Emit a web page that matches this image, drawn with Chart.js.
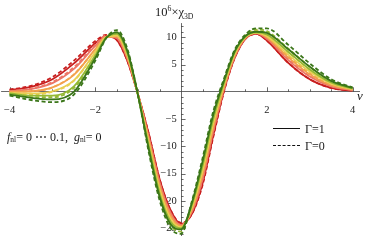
<!DOCTYPE html>
<html><head><meta charset="utf-8">
<script src="https://cdn.jsdelivr.net/npm/chart.js@4.4.1/dist/chart.umd.min.js"></script>
<style>
html,body{margin:0;padding:0;background:#fff;}
#wrap{position:relative;width:374px;height:245px;overflow:hidden;}
canvas{position:absolute;left:0;top:0;}
.t{position:absolute;font-family:"Liberation Serif","DejaVu Serif",serif;color:#1a1a1a;white-space:nowrap;line-height:1;}
.sm{font-size:0.62em;}
.ln{position:absolute;width:27px;height:0;border-top:1.8px solid #111;}
</style></head><body>
<div id="wrap"><canvas id="c" width="374" height="245"></canvas>
<div class="t" style="left:155px;top:6px;font-size:12.5px;">10<span class="sm" style="position:relative;top:-5px;">6</span>×χ<span class="sm" style="position:relative;top:3px;">3D</span></div>
<div class="t" style="left:357px;top:89px;font-size:13px;font-style:italic;">ν</div>
<div class="t" style="left:7px;top:131px;font-size:12px;"><i>f</i><span class="sm" style="position:relative;top:1px;">nl</span>= 0 ⋯ 0.1,&nbsp; <i>g</i><span class="sm" style="position:relative;top:1px;">nl</span>= 0</div>
<div class="ln" style="left:273px;top:128px;"></div>
<div class="t" style="left:305px;top:123px;font-size:12px;">Γ=1</div>
<div class="ln" style="left:273px;top:145px;border-top-style:dashed;"></div>
<div class="t" style="left:305px;top:140px;font-size:12px;">Γ=0</div>
</div>
<script>
// ---- data ----
const xs = [-4,-3.5,-3,-2.5,-2,-1.75,-1.5,-1.25,-1,-0.75,-0.5,-0.25,0,0.25,0.5,0.75,1,1.25,1.5,1.75,2,2.5,3,3.5,4];
const fValues = ['0','0.02','0.04','0.06','0.08','0.1'];
// solid (Γ=1)
const s0 = [0.3,0.9,2.3,5.2,8.9,10.2,9.5,5.6,-0.6,-7.8,-16.0,-21.6,-24.2,-22.4,-16.8,-8.0,0.2,6.2,9.7,10.6,9.4,5.3,2.3,0.7,0.2];
const s1 = [0.1,0.5,1.6,4.2,8.4,10.1,9.8,6.0,-0.6,-8.4,-16.6,-22.1,-24.4,-22.0,-16.0,-7.2,0.6,6.4,9.8,10.7,9.7,5.8,2.8,1.0,0.3];
const s2 = [0.0,0.1,0.8,3.1,7.8,10.0,10.1,6.3,-0.7,-8.9,-17.3,-22.6,-24.6,-21.6,-15.2,-6.5,0.9,6.7,9.9,10.8,10.0,6.3,3.2,1.2,0.4];
const s3 = [-0.2,-0.3,0.1,2.1,7.3,10.0,10.3,6.7,-0.7,-9.5,-17.9,-23.2,-24.8,-21.2,-14.4,-5.7,1.3,6.9,10.0,10.8,10.2,6.8,3.7,1.5,0.5];
const s4 = [-0.3,-0.7,-0.7,1.0,6.7,9.9,10.6,7.0,-0.8,-10.0,-18.6,-23.7,-25.0,-20.8,-13.6,-5.0,1.6,7.2,10.1,10.9,10.5,7.3,4.1,1.7,0.6];
const s5 = [-0.5,-1.1,-1.4,0.0,6.2,9.8,10.9,7.4,-0.8,-10.6,-19.2,-24.2,-25.2,-20.4,-12.8,-4.2,2.0,7.4,10.2,11.0,10.8,7.8,4.6,2.0,0.7];
// dashed (Γ=0)
const d0 = [0.4,1.1,2.7,5.7,9.3,10.4,9.5,5.6,-0.6,-7.8,-16.0,-21.6,-24.0,-22.4,-17.1,-8.3,0.0,6.2,9.7,10.6,9.4,5.3,2.3,0.7,0.2];
const d1 = [0.1,0.6,1.8,4.5,8.6,10.3,9.9,6.1,-0.6,-8.5,-16.7,-22.2,-24.4,-21.9,-16.1,-7.3,0.5,6.5,9.9,10.8,9.9,6.0,2.9,1.1,0.3];
const d2 = [0.0,0.1,0.8,3.2,7.8,10.1,10.3,6.5,-0.7,-9.1,-17.6,-22.9,-24.8,-21.5,-15.1,-6.4,0.9,6.8,10.0,11.0,10.3,6.6,3.4,1.3,0.4];
const d3 = [-0.3,-0.5,0.0,2.0,7.2,10.1,10.5,6.9,-0.7,-9.9,-18.3,-23.6,-25.2,-21.0,-14.2,-5.5,1.5,7.1,10.2,11.2,10.7,7.3,4.1,1.7,0.6];
const d4 = [-0.4,-1.0,-1.0,0.7,6.4,9.9,10.9,7.3,-0.8,-10.5,-19.2,-24.3,-25.6,-20.6,-13.2,-4.6,1.9,7.4,10.3,11.4,11.1,7.9,4.6,1.9,0.7];
const d5 = [-0.7,-1.5,-1.9,-0.5,5.7,9.8,11.3,7.8,-0.8,-11.2,-19.9,-24.9,-26.0,-20.1,-12.2,-3.6,2.4,7.7,10.5,11.6,11.6,8.6,5.2,2.3,0.8];
// ticks
const xTickValues = [-4,-2,2,4];
const xTickLabels = ['\u22124','\u22122','2','4'];
const yTickValues = [10,5,-5,-10,-15,-20,-25];
const yTickLabels = ['10','5','\u22125','\u221210','\u221215','\u221220','\u221225'];

const solids = [s0,s1,s2,s3,s4,s5];
const dashes = [d0,d1,d2,d3,d4,d5];
const colors = ['#c81e1e','#ec7666','#f3a14c','#e9cf52','#94b934','#3b7619'];

const datasets = [];
for (let k = 0; k < 6; k++) {
  datasets.push({label:'f='+fValues[k]+' Γ=1', data: xs.map((x,i)=>({x, y: solids[k][i]})),
    borderColor: colors[k], borderWidth: 1.8, pointRadius: 0, fill: false, cubicInterpolationMode: 'monotone'});
  datasets.push({label:'f='+fValues[k]+' Γ=0', data: xs.map((x,i)=>({x, y: dashes[k][i]})),
    borderColor: colors[k], borderWidth: 1.8, borderDash: [4,2.5], pointRadius: 0, fill: false, cubicInterpolationMode: 'monotone'});
}
// Chart.js paints dataset 0 on top; green (last f) must end on top
datasets.reverse();

const tickFont = {family: 'Liberation Serif', size: 10.5};
const minorTicks = {
  id: 'minorTicks',
  beforeDatasetsDraw(chart) {
    const ctx = chart.ctx, xs_ = chart.scales.x, ys_ = chart.scales.y;
    const x0 = xs_.getPixelForValue(0), y0 = ys_.getPixelForValue(0);
    ctx.save();
    ctx.strokeStyle = '#444'; ctx.lineWidth = 0.8;
    ctx.beginPath();
    for (let v = -4; v <= 4.001; v += 0.5) {
      if (Math.abs(v) < 1e-9) continue;
      const p = Math.round(xs_.getPixelForValue(v)) + 0.5;
      const len = xTickValues.includes(v) ? 4.5 : 2.5;
      ctx.moveTo(p, y0); ctx.lineTo(p, y0 - len);
    }
    for (let v = -26; v <= 12; v += 1) {
      if (v === 0) continue;
      const p = Math.round(ys_.getPixelForValue(v)) + 0.5;
      const len = (v % 5 === 0) ? 4.5 : 2.5;
      ctx.moveTo(x0, p); ctx.lineTo(x0 + len, p);
    }
    ctx.stroke();
    ctx.restore();
  }
};

new Chart(document.getElementById('c'), {
  type: 'line',
  data: {datasets},
  plugins: [minorTicks],
  options: {
    responsive: false, animation: false, devicePixelRatio: 1,
    layout: {padding: {left: 0, right: 15, top: 23, bottom: 0}},
    plugins: {legend: {display: false}, tooltip: {enabled: false}},
    scales: {
      x: {type: 'linear', min: -4.18, max: 4.15, position: {y: 0},
        grid: {display: false}, border: {display: true, color: '#444', width: 0.8},
        afterBuildTicks: s => { s.ticks = xTickValues.map(v => ({value: v})); },
        ticks: {autoSkip: false, maxRotation: 0, padding: 4, color: '#222', font: tickFont,
          callback: (v, i) => xTickLabels[i]}},
      y: {type: 'linear', min: -26.35, max: 12.6, position: {x: 0},
        grid: {display: false}, border: {display: true, color: '#444', width: 0.8},
        afterBuildTicks: s => { s.ticks = yTickValues.map(v => ({value: v})); },
        ticks: {autoSkip: false, color: '#222', font: tickFont,
          callback: (v, i) => yTickLabels[i] + '\u2009\u2009'}}
    }
  }
});
</script>
</body></html>
